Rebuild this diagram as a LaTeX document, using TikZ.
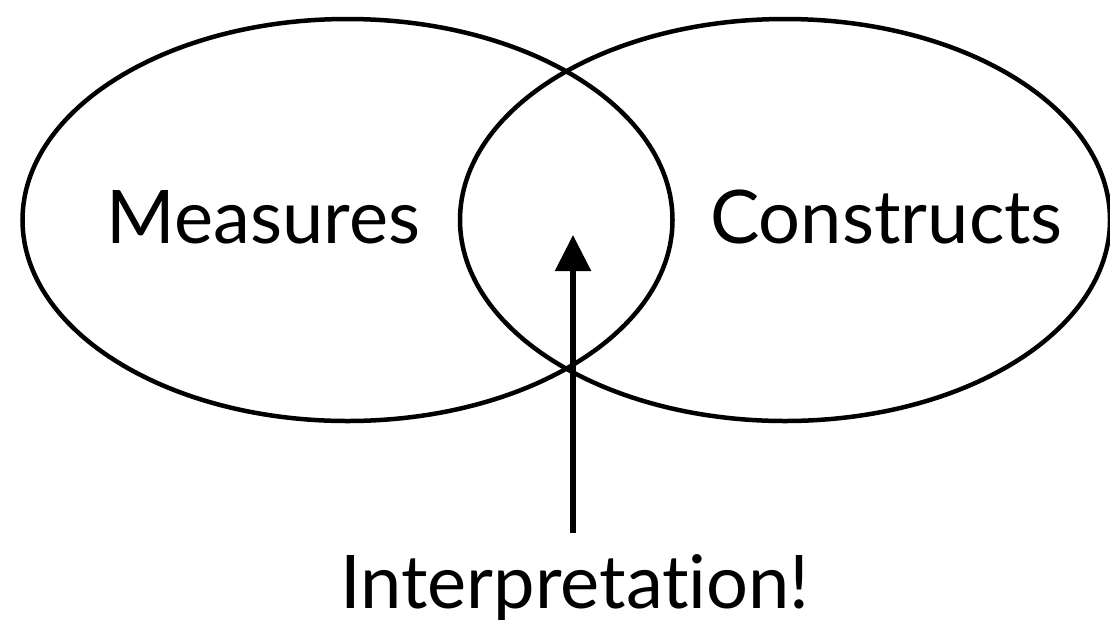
\documentclass[tikz,border=0pt]{standalone}
\usepackage{fontspec}
\setmainfont{Lato}[Ligatures=NoCommon]
\usetikzlibrary{shapes.geometric,arrows.meta}

\tikzset{
  setbox/.style={draw, ellipse, line width=4.5pt, inner sep=0pt,
    minimum width=650pt, minimum height=402pt},
  label/.style={anchor=base, inner sep=0pt, font=\fontsize{74}{88}\selectfont}
}

\begin{document}
\begin{tikzpicture}[x=1pt,y=-1pt]
    \useasboundingbox (0,0) rectangle (1110,619);
    \node[setbox] (measset) at (347.5,220) {};
    \node[setbox] (constrset) at (785,220) {};

    \node[label] (measures) at (263.5,243) {Measures};
    \node[label] (constructs) at (886.5,243) {Constructs};
    \node[label, outer sep=0pt] (interp) at (575,608) {Interpretation!};

    \coordinate (tip) at (573,235);
    \draw[-{Triangle[width=35pt,length=36pt]}, line width=5.5pt, shorten <=21pt]
        (interp.north -| tip) -- (tip);
\end{tikzpicture}
\end{document}
